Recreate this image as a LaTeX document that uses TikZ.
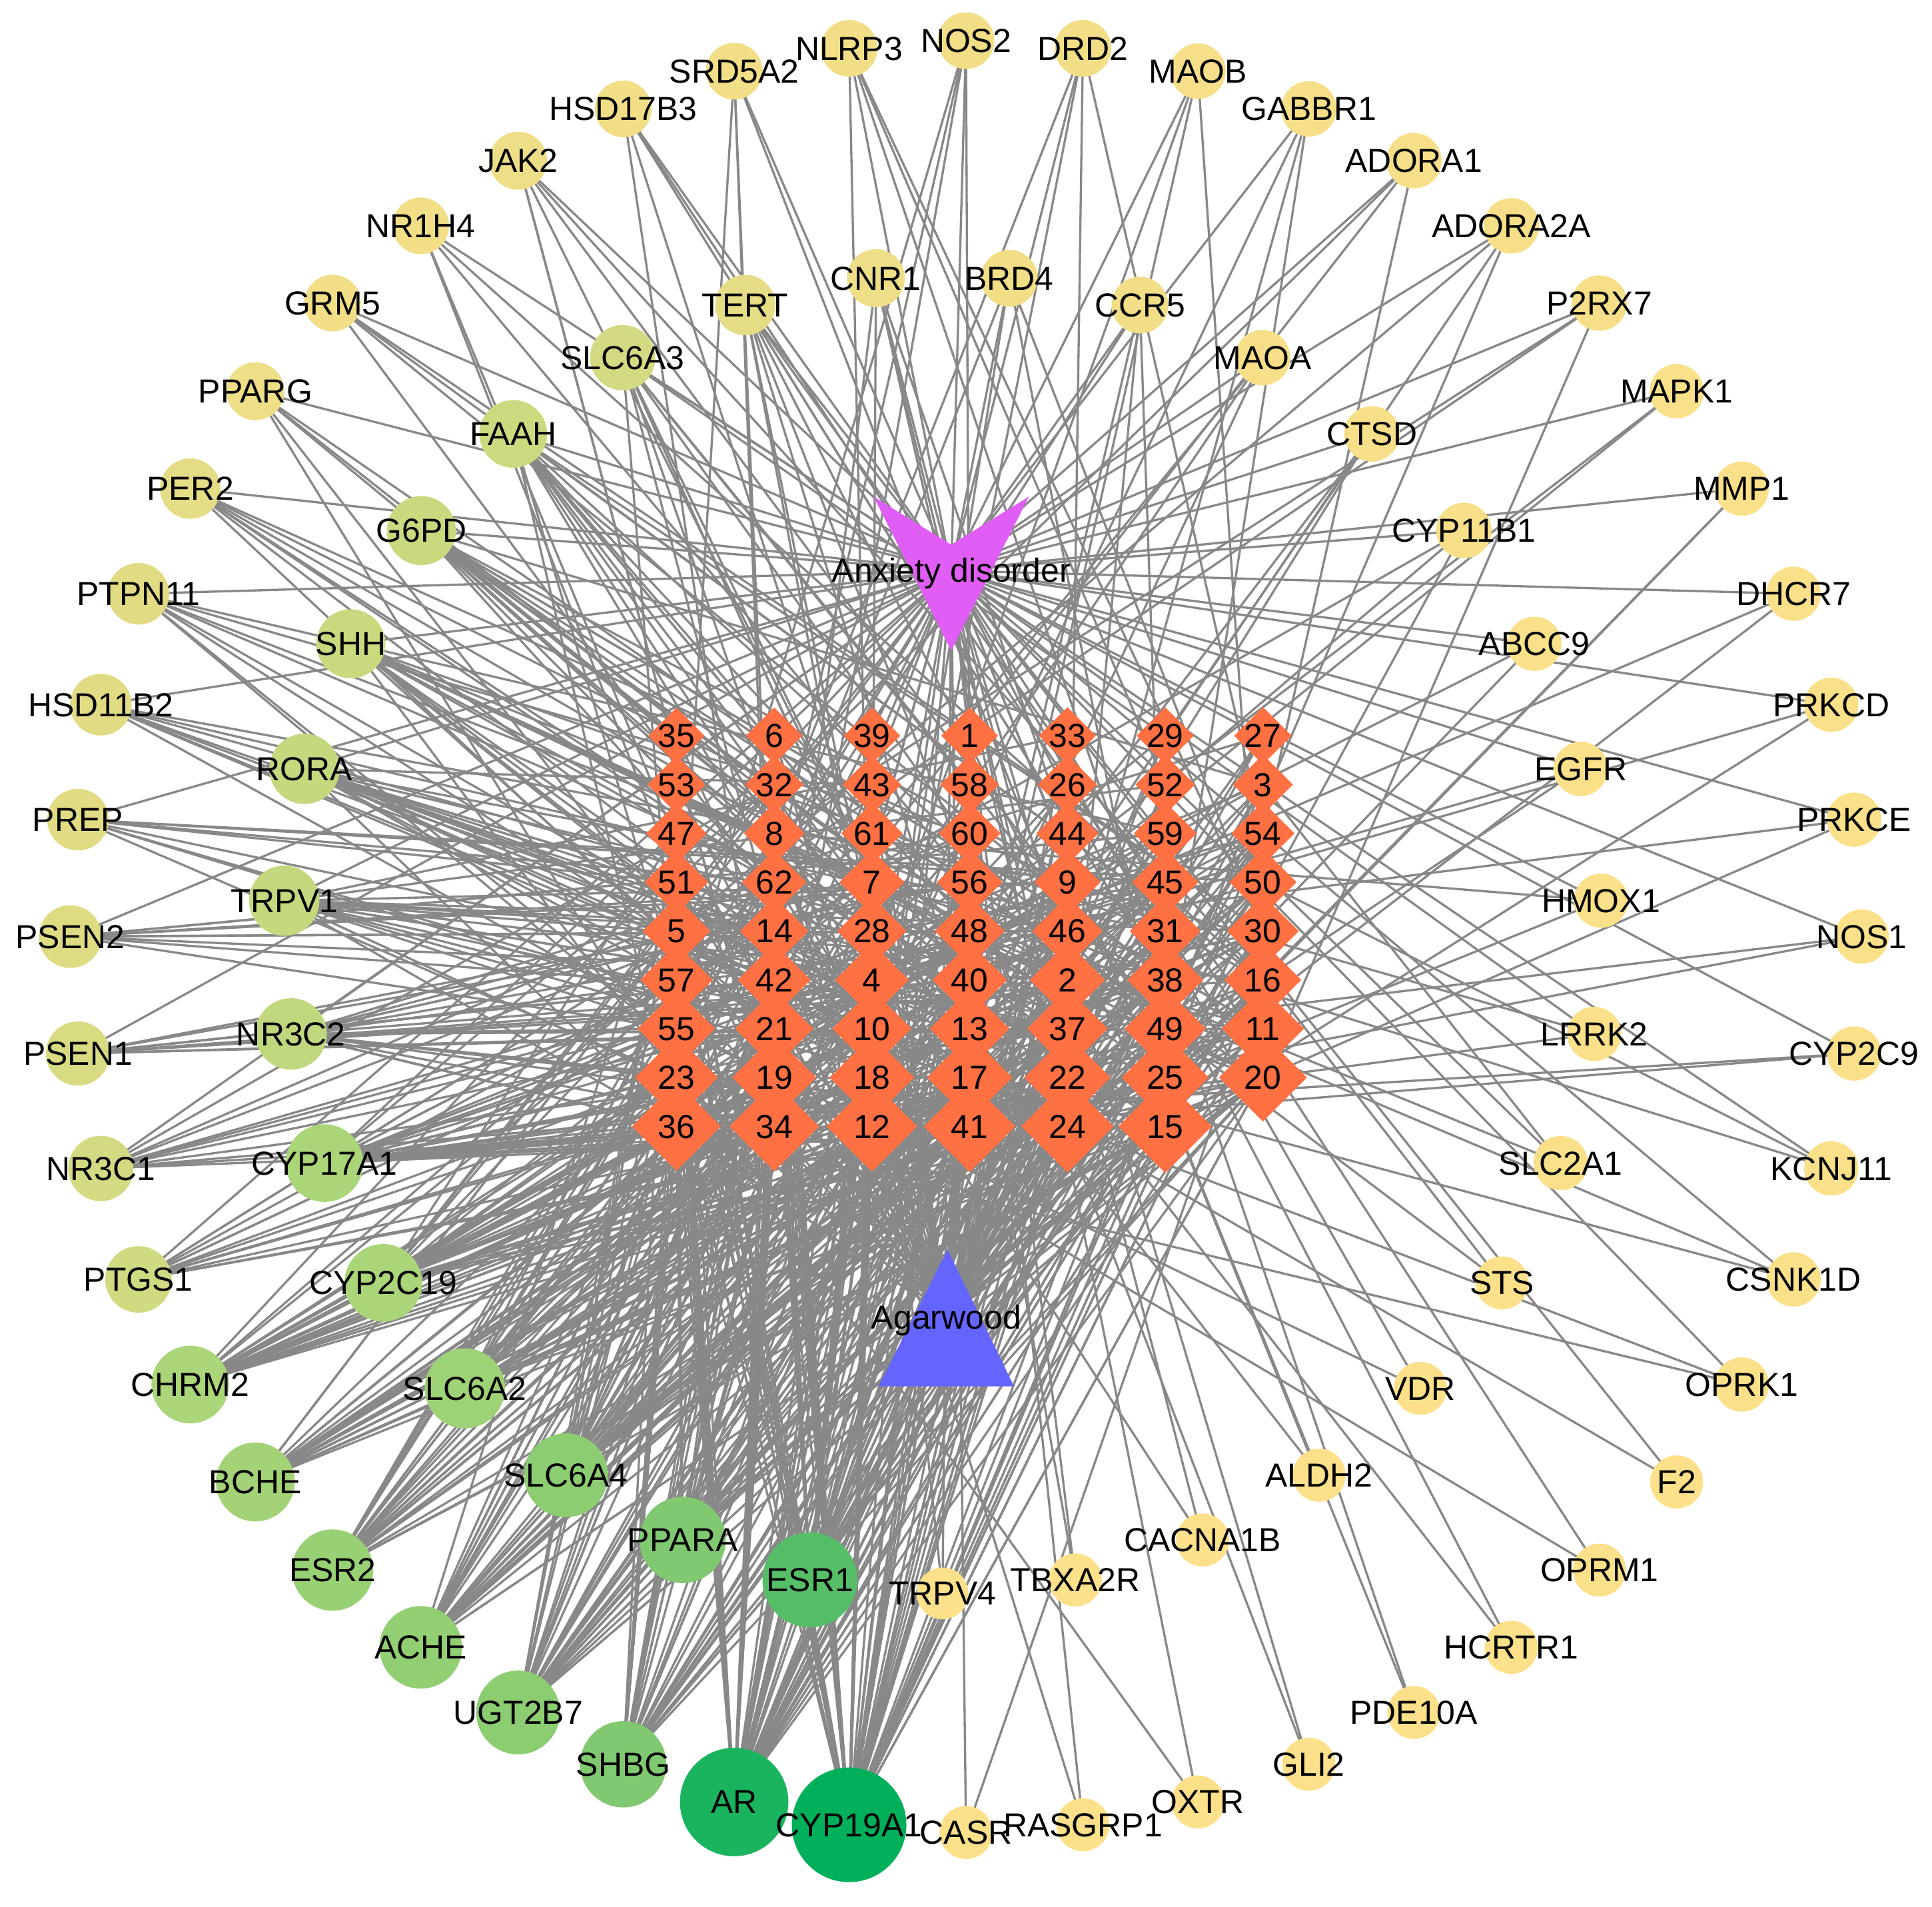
\documentclass[tikz,border=0pt]{standalone}
\usepackage{fontspec}
\setmainfont{Liberation Sans}
\usetikzlibrary{shapes.geometric}
\pgfdeclarelayer{bg}
\pgfsetlayers{bg,main}
\definecolor{gA}{RGB}{253,224,138}
\definecolor{gB}{RGB}{170,213,120}
\definecolor{gC}{RGB}{85,190,103}
\definecolor{gD}{RGB}{0,175,90}
\definecolor{edgec}{RGB}{136,136,136}
\definecolor{cmpd}{RGB}{255,112,67}
\definecolor{disc}{RGB}{224,94,245}
\definecolor{herbc}{RGB}{100,100,255}
\def\outerlist{NOS2/46,DRD2/46,MAOB/45,GABBR1/45,ADORA1/45,ADORA2A/45,P2RX7/45,MAPK1/44,MMP1/44,DHCR7/44,PRKCD/44,PRKCE/44,NOS1/44,CYP2C9/44,KCNJ11/44,CSNK1D/44,OPRK1/44,F2/43,OPRM1/43,HCRTR1/43,PDE10A/43,GLI2/43,OXTR/43,RASGRP1/43,CASR/43,CYP19A1/93,AR/88,SHBG/70,UGT2B7/68,ACHE/67,ESR2/66,BCHE/64,CHRM2/63,PTGS1/54,NR3C1/53,PSEN1/52,PSEN2/51,PREP/50,HSD11B2/50,PTPN11/50,PER2/49,PPARG/47,GRM5/46,NR1H4/46,JAK2/47,HSD17B3/46,SRD5A2/46,NLRP3/46}
\def\innerlist{BRD4/46,CCR5/46,MAOA/45,CTSD/45,CYP11B1/45,ABCC9/44,EGFR/44,HMOX1/44,LRRK2/44,SLC2A1/44,STS/43,VDR/43,ALDH2/43,CACNA1B/43,TBXA2R/43,TRPV4/42,ESR1/77,PPARA/70,SLC6A4/68,SLC6A2/65,CYP2C19/63,CYP17A1/63,NR3C2/58,TRPV1/57,RORA/57,SHH/56,G6PD/56,FAAH/55,SLC6A3/53,TERT/49,CNR1/47}
\def\cmplist{35,6,39,1,33,29,27,53,32,43,58,26,52,3,47,8,61,60,44,59,54,51,62,7,56,9,45,50,5,14,28,48,46,31,30,57,42,4,40,2,38,16,55,21,10,13,37,49,11,23,19,18,17,22,25,20,36,34,12,41,24,15}
\newcommand\setgenecolor[1]{%
  \pgfmathsetmacro\gdia{#1}%
  \ifdim\gdia pt<63pt
    \pgfmathtruncatemacro\gmix{max(0,(\gdia-43)/20*100)}\colorlet{gc}{gB!\gmix!gA}%
  \else\ifdim\gdia pt<77pt
    \pgfmathtruncatemacro\gmix{(\gdia-63)/14*100}\colorlet{gc}{gC!\gmix!gB}%
  \else
    \pgfmathtruncatemacro\gmix{min(100,(\gdia-77)/16*100)}\colorlet{gc}{gD!\gmix!gC}%
  \fi\fi}
\begin{document}
\begin{tikzpicture}[x=0.5pt,y=-0.5pt,
  gene/.style={circle,inner sep=0pt,draw=none},
  cmp/.style={diamond,inner sep=0pt,fill=cmpd,aspect=1},
  lbl/.style={inner sep=0pt,text height=9.5pt,text depth=0pt,font=\fontsize{13.5}{15}\selectfont},
  edge/.style={draw=edgec,line width=0.9pt}]
\useasboundingbox (0,0) rectangle (1568,1547.45);
% outer ring genes
\foreach \n/\d [count=\i from 0] in \outerlist {
  \setgenecolor{\d}
  \node[gene,minimum size=\d*0.5pt,fill=gc] (\n) at ({784+727*sin(7.5*\i)},{760-727*cos(7.5*\i)}) {};
}
% inner ring genes
\foreach \n/\d [count=\i from 0] in \innerlist {
  \setgenecolor{\d}
  \node[gene,minimum size=\d*0.5pt,fill=gc] (\n) at ({765+535*sin((\i+0.5)*360/31)},{758-535*cos((\i+0.5)*360/31)}) {};
}
% compounds
\foreach \c [count=\j from 0] in \cmplist {
  \pgfmathtruncatemacro\ccol{mod(\j,7)}
  \pgfmathtruncatemacro\crow{div(\j,7)}
  \pgfmathsetmacro\cw{46+30*(\j/61)^1.5}
  \node[cmp,minimum size=\cw*0.5pt] (c\j) at ({549+79.33*\ccol},{597+39.625*\crow}) {};
}
% disease and herb shapes
\fill[disc] (709,403) -- (772,442) -- (835,403) -- (772,528) -- cycle;
\fill[herbc] (769,1014) -- (823,1125) -- (713,1125) -- cycle;
% labels
\foreach \n/\d in \outerlist { \node[lbl] (t\n) at (\n) {\n}; }
\foreach \n/\d in \innerlist { \node[lbl] (t\n) at (\n) {\n}; }
\foreach \c [count=\j from 0] in \cmplist { \node[lbl] (tc\j) at (c\j) {\c}; }
\node[lbl] (ad) at (772,463) {Anxiety disorder};
\node[lbl] (ag) at (768,1069) {Agarwood};
% edges
\begin{pgfonlayer}{bg}
\fill[white] (0,0) rectangle (1568,1547.45);
\pgfmathsetseed{7}
\foreach \n/\d in \outerlist {
  \draw[edge] (\n.center) -- (ad.center);
  \pgfmathtruncatemacro\gk{max(1,round(\d-42)+round(max(0,\d-55)*0.6))}
  \foreach \m in {1,...,\gk} {
    \pgfmathtruncatemacro\cj{floor(61.999*sqrt(rnd))}
    \draw[edge] (\n.center) -- (c\cj.center);
  }
}
\foreach \n/\d in \innerlist {
  \draw[edge] (\n.center) -- (ad.center);
  \pgfmathtruncatemacro\gk{max(1,round(\d-42)+round(max(0,\d-55)*0.6))}
  \foreach \m in {1,...,\gk} {
    \pgfmathtruncatemacro\cj{floor(61.999*sqrt(rnd))}
    \draw[edge] (\n.center) -- (c\cj.center);
  }
}
\foreach \j in {0,...,61} { \draw[edge] (c\j.center) -- (ag.center); }
\end{pgfonlayer}
\end{tikzpicture}
\end{document}
